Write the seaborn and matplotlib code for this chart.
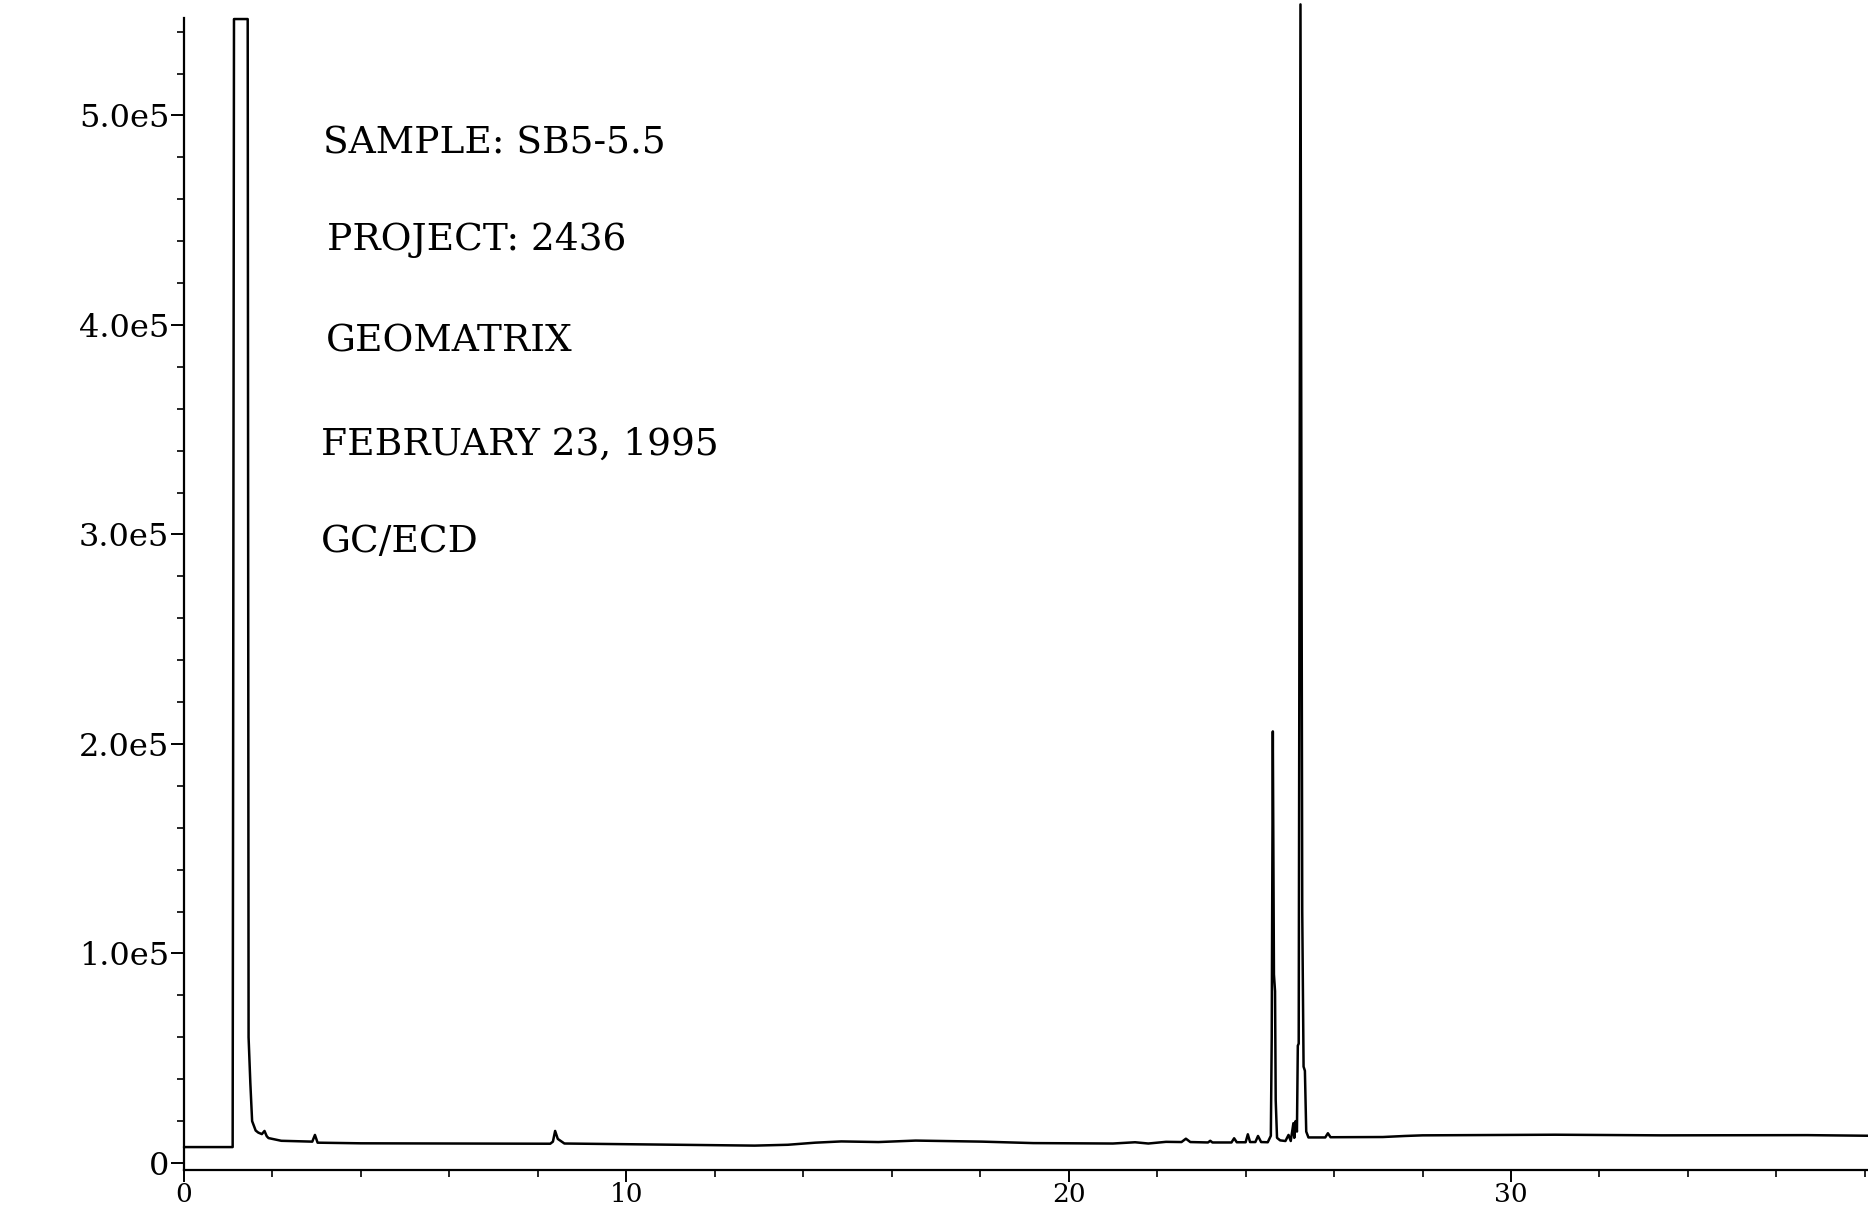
import matplotlib
matplotlib.use("Agg")
import matplotlib.pyplot as plt
from matplotlib.ticker import MultipleLocator, FixedLocator, FixedFormatter
import seaborn as sns
import pandas as pd

# ---------------- data ----------------
time_min = [
    0.00, 1.10, 1.13, 1.44, 1.46, 1.50, 1.54, 1.62, 1.68, 1.76, 1.82, 1.87,
    1.91, 2.20, 2.90, 2.96, 3.02, 4.00, 8.28, 8.34, 8.39, 8.45, 8.60, 11.6,
    12.9, 13.65, 14.27, 14.86, 15.7, 16.54, 18.04, 19.2, 21.0, 21.5, 21.8,
    22.2, 22.55, 22.65, 22.75, 23.15, 23.20, 23.25, 23.68, 23.74, 23.80,
    24.00, 24.05, 24.10, 24.22, 24.28, 24.35, 24.50, 24.57, 24.59, 24.615,
    24.64, 24.665, 24.68, 24.71, 24.78, 24.90, 24.97, 25.02, 25.08, 25.10,
    25.13, 25.16, 25.18, 25.20, 25.24, 25.28, 25.31, 25.34, 25.37, 25.42,
    25.80, 25.86, 25.92, 27.10, 27.60, 28.00, 31.00, 33.40, 36.70, 38.10,
]
signal = [
    7600, 7600, 546000, 546000, 60000, 38000, 20000, 15500, 14500, 13800, 15300, 12800,
    11900, 10600, 10200, 13400, 9700, 9400, 9200, 10200, 15300, 11500, 9300, 8600,
    8300, 8700, 9700, 10300, 10000, 10700, 10200, 9500, 9300, 9900, 9300,
    10100, 10000, 11600, 10000, 9800, 10600, 9800, 9800, 11800, 9900,
    9900, 13700, 10000, 10000, 12900, 10000, 9900, 13000, 60000, 206000,
    90000, 82000, 30000, 12000, 10800, 10500, 13400, 10500, 19000, 12000,
    20000, 15000, 56000, 57000, 553000, 120000, 46000, 44000, 15000, 12200,
    12200, 14200, 12300, 12400, 12900, 13200, 13500, 13200, 13300, 13000,
]

y_ticks = [0, 100000, 200000, 300000, 400000, 500000]
y_tick_labels = ["0", "1.0e5", "2.0e5", "3.0e5", "4.0e5", "5.0e5"]
x_ticks = [0, 10, 20, 30]
x_tick_labels = ["0", "10", "20", "30"]

info_lines = ["SAMPLE: SB5-5.5", "PROJECT: 2436", "GEOMATRIX",
              "FEBRUARY 23, 1995", "GC/ECD"]

# ---------------- style ----------------
sns.set_style("ticks")
plt.rcParams["font.family"] = ["DejaVu Serif", "DejaVu Sans"]

W, H = 1868, 1216
fig = plt.figure(figsize=(W / 100, H / 100), dpi=100)
ax_left, ax_right, ax_top, ax_bottom = 184, 1868, 18, 1170
ax = fig.add_axes([ax_left / W, 1 - ax_bottom / H,
                   (ax_right - ax_left) / W, (ax_bottom - ax_top) / H])

df = pd.DataFrame({"time": time_min, "signal": signal})
sns.lineplot(data=df, x="time", y="signal", ax=ax, color="black",
             linewidth=1.8, estimator=None, sort=False)
for ln in ax.lines:
    ln.set_clip_on(False)

ax.set_xlim(0, 38.07)
ax.set_ylim(-3340, 546500)

sns.despine(ax=ax, top=True, right=True)
for side in ("left", "bottom"):
    ax.spines[side].set_linewidth(1.6)
    ax.spines[side].set_color("black")

ax.yaxis.set_major_locator(FixedLocator(y_ticks))
ax.yaxis.set_major_formatter(FixedFormatter(y_tick_labels))
ax.yaxis.set_minor_locator(MultipleLocator(20000))
ax.xaxis.set_major_locator(FixedLocator(x_ticks))
ax.xaxis.set_major_formatter(FixedFormatter(x_tick_labels))
ax.xaxis.set_minor_locator(MultipleLocator(2))

ax.tick_params(axis="y", which="major", direction="out", length=9.5,
               width=1.4, color="black", labelsize=23, labelcolor="black", pad=1)
ax.tick_params(axis="x", which="major", direction="out", length=8.5,
               width=1.4, color="black", labelsize=19, labelcolor="black", pad=0.5)
ax.tick_params(axis="both", which="minor", direction="out", length=5,
               width=1.2, color="black")

ax.set_xlabel("")
ax.set_ylabel("")

# ---------------- annotation block ----------------
text_pos = [(323, 153), (327, 250), (326, 352), (321, 455), (321, 552)]
for (px, py), line in zip(text_pos, info_lines):
    fig.text(px / W, 1 - py / H, line, fontsize=27, color="black",
             ha="left", va="baseline")

fig.savefig("out.png", dpi=100)
